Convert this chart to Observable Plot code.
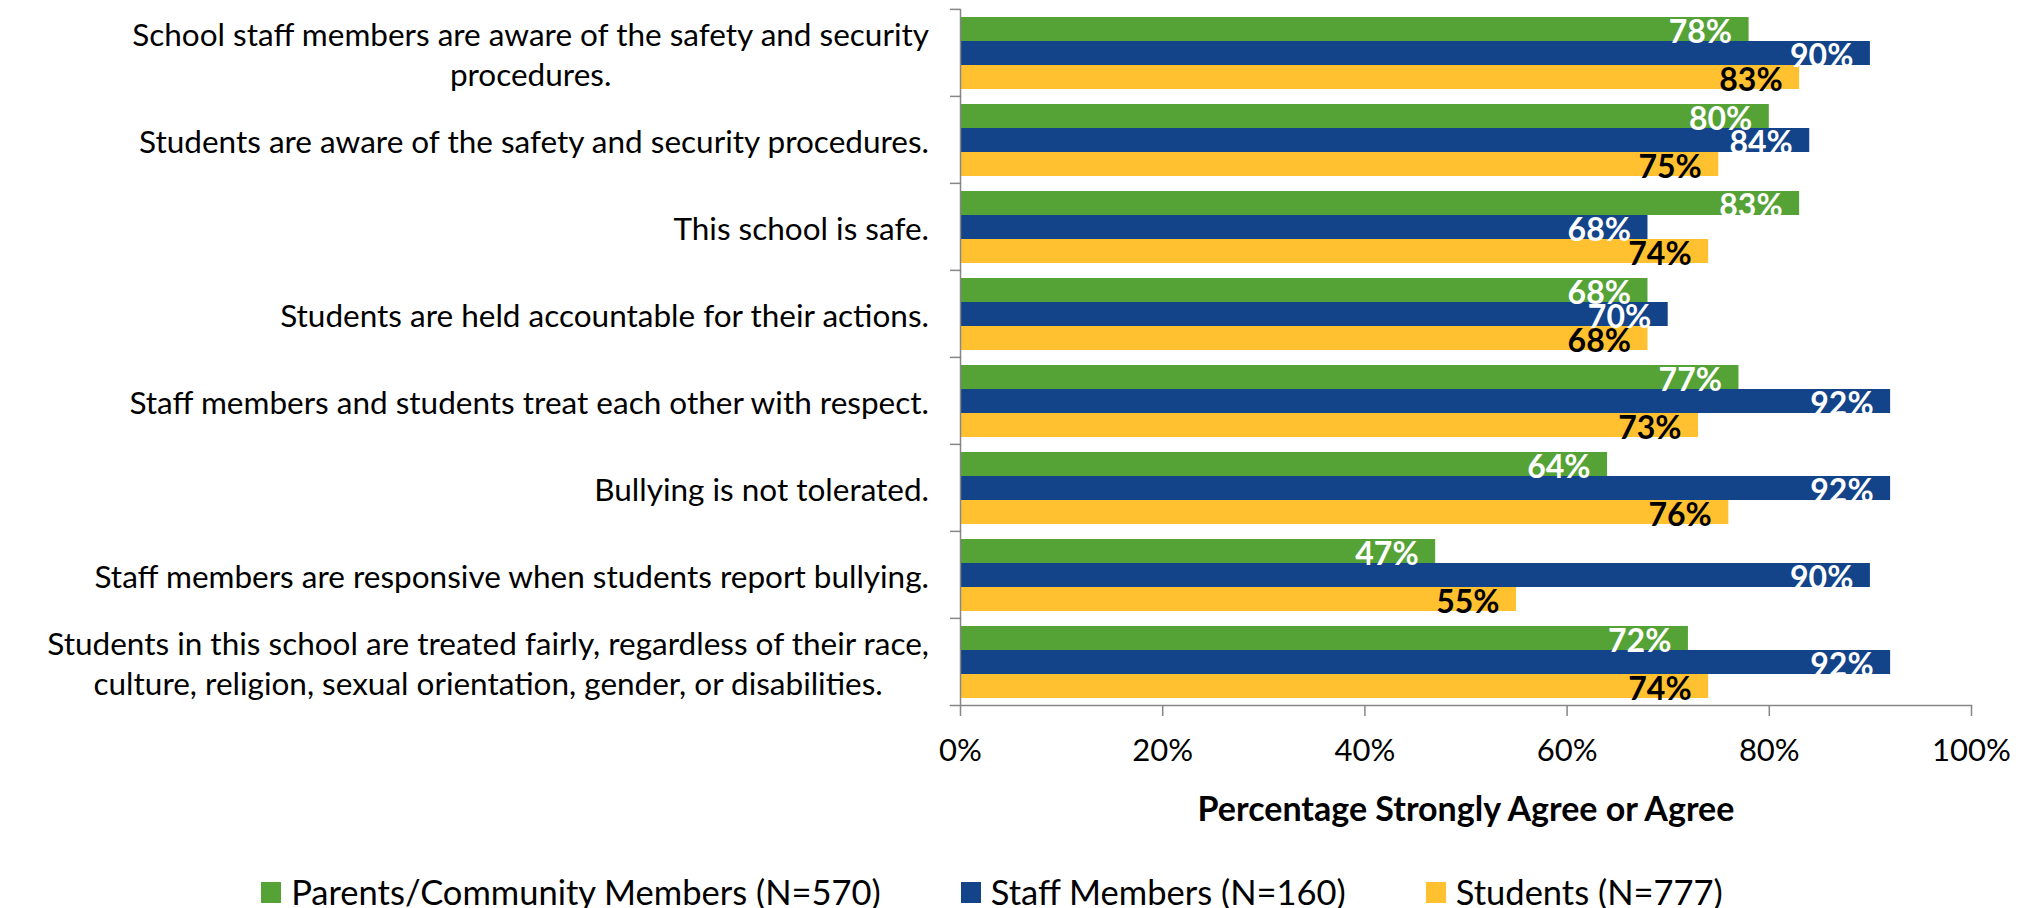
<!DOCTYPE html>
<html>
<head>
<meta charset="utf-8">
<script src="https://cdn.jsdelivr.net/npm/d3@7"></script>
<script src="https://cdn.jsdelivr.net/npm/@observablehq/plot@0.6"></script>
<style>
  html, body { margin: 0; padding: 0; background: #fff; overflow: hidden; }
  body { width: 2030px; height: 908px; font-family: Lato, "Noto Sans", sans-serif; }
  #chart svg { display: block; }
  #legend { display: flex; justify-content: center; gap: 80px; margin-top: 32px; margin-left: -46px;
            font-size: 34.5px; line-height: 40px; color: #000; }
  #legend .item { display: flex; align-items: center; white-space: nowrap; }
  #legend .sw { width: 20px; height: 21px; margin-right: 10px; }
</style>
</head>
<body>
<div id="chart"></div>
<div id="legend"></div>
<script>
// ---- data ----
const questions = [
  "School staff members are aware of the safety and security\nprocedures.",
  "Students are aware of the safety and security procedures.",
  "This school is safe.",
  "Students are held accountable for their actions.",
  "Staff members and students treat each other with respect.",
  "Bullying is not tolerated.",
  "Staff members are responsive when students report bullying.",
  "Students in this school are treated fairly, regardless of their race,\nculture, religion, sexual orientation, gender, or disabilities."
];
const seriesNames = ["Parents/Community Members (N=570)", "Staff Members (N=160)", "Students (N=777)"];
const parents  = [78, 80, 83, 68, 77, 64, 47, 72];
const staff    = [90, 84, 68, 70, 92, 92, 90, 92];
const students = [83, 75, 74, 68, 73, 76, 55, 74];
const xTicks = [0, 20, 40, 60, 80, 100];
const xTitle = "Percentage Strongly Agree or Agree";

// ---- styles ----
const colors = ["#55A237", "#134389", "#FFC12F"];
const axisGray = "#868686";

const seriesValues = [parents, staff, students];
const data = questions.flatMap((q, i) =>
  seriesNames.map((s, j) => ({question: q, series: s, value: seriesValues[j][i]}))
);

const W = 2030, H = 840, mT = 8, mB = 134, mL = 960, mR = 59;
const step = (H - mT - mB) / questions.length;

const chart = Plot.plot({
  width: W, height: H,
  marginLeft: mL, marginRight: mR, marginTop: mT, marginBottom: mB,
  style: {fontFamily: "Lato, 'Noto Sans', sans-serif", background: "#fff", color: "#000"},
  x: {domain: [0, 100], axis: null},
  y: {domain: seriesNames, axis: null, paddingInner: 0, paddingOuter: 0.28},
  fy: {domain: questions, axis: null, padding: 0},
  color: {domain: seriesNames, range: colors},
  marks: [
    Plot.barX(data, {x: "value", y: "series", fy: "question", fill: "series"}),
    Plot.frame({anchor: "left", stroke: axisGray, strokeWidth: 1.5}),
    Plot.frame({anchor: "bottom", facetAnchor: "bottom", stroke: axisGray, strokeWidth: 1.5, insetLeft: -10}),
    Plot.axisFy({anchor: "left", tickSize: 10, tickFormat: () => "", label: null, stroke: axisGray, strokeWidth: 1.5, dy: -step / 2}),
    Plot.axisX({ticks: xTicks, tickFormat: d => d + "%", tickSize: 11, tickPadding: 22, fontSize: 31,
                stroke: axisGray, strokeWidth: 1.5, fill: "#000", label: null}),
    Plot.text([xTitle], {frameAnchor: "bottom", facetAnchor: "bottom", dy: 115, fontWeight: "bold", fontSize: 34, fill: "#000"}),
    Plot.text(questions, {fy: d => d, text: d => d, frameAnchor: "left", textAnchor: "middle",
                          fontSize: 31.5, lineHeight: 1.27, fill: "#000", className: "qlabel"}),
    Plot.text(data.filter(d => d.series !== seriesNames[2]), {x: "value", y: "series", fy: "question",
              text: d => d.value + "%", textAnchor: "end", dx: -17, dy: 3, fill: "#fff", fontWeight: "bold", fontSize: 32}),
    Plot.text(data.filter(d => d.series === seriesNames[2]), {x: "value", y: "series", fy: "question",
              text: d => d.value + "%", textAnchor: "end", dx: -17, dy: 3, fill: "#000", fontWeight: "bold", fontSize: 32})
  ]
});
document.getElementById("chart").appendChild(chart);

// right-align each (centered) question label block to the axis with a gap
const labelRight = mL - 31;
chart.querySelectorAll(".qlabel text").forEach(t => {
  const r = t.getBoundingClientRect();
  const shift = labelRight - r.right;
  const tr = t.getAttribute("transform");
  t.setAttribute("transform", (tr ? tr + " " : "") + `translate(${shift},0)`);
});

// legend
const legend = document.getElementById("legend");
seriesNames.forEach((s, i) => {
  const item = document.createElement("div");
  item.className = "item";
  const sw = document.createElement("span");
  sw.className = "sw";
  sw.style.background = colors[i];
  const lab = document.createElement("span");
  lab.textContent = s;
  item.appendChild(sw);
  item.appendChild(lab);
  legend.appendChild(item);
});
</script>
</body>
</html>
